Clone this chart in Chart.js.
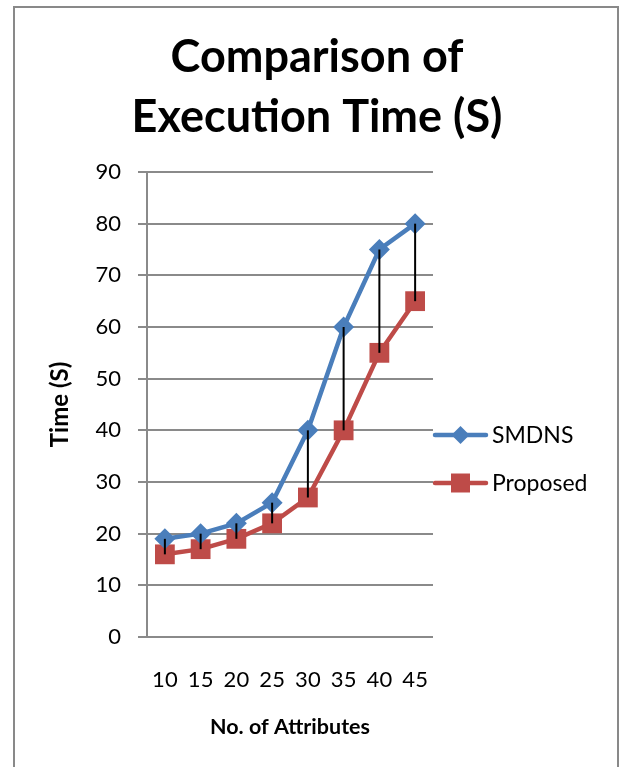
<!DOCTYPE html>
<html>
<head>
<meta charset="utf-8">
<script src="https://cdn.jsdelivr.net/npm/chart.js"></script>
<style>
  html, body { margin: 0; padding: 0; background: #fff; }
  #wrap { position: relative; width: 625px; height: 767px; overflow: hidden; }
  #frame { position: absolute; left: 13px; top: 6px; width: 606px; height: 800px; border: 2px solid #898989; box-sizing: border-box; }
  canvas { position: absolute; left: 0; top: 0; }
</style>
</head>
<body>
<div id="wrap">
  <div id="frame"></div>
  <canvas id="c" width="625" height="767"></canvas>
</div>
<script>
const categories = ["10", "15", "20", "25", "30", "35", "40", "45"];
const smdns = [19, 20, 22, 26, 40, 60, 75, 80];
const proposed = [16, 17, 19, 22, 27, 40, 55, 65];
const seriesNames = ["SMDNS", "Proposed"];
const titleLines = ["Comparison of", "Execution Time (S)"];
const xTitle = "No. of Attributes";
const yTitle = "Time (S)";

const BLUE = "#4A7EBB";
const RED = "#BE4B48";
const GRID = "#8A8A8A";

Chart.defaults.font.family = "Lato";
Chart.defaults.color = "#000";

const highLow = {
  id: "highLow",
  afterDatasetsDraw(chart) {
    const ctx = chart.ctx, xs = chart.scales.x, ys = chart.scales.y;
    ctx.save();
    ctx.strokeStyle = "#000";
    ctx.lineWidth = 2;
    for (let i = 0; i < categories.length; i++) {
      const x = xs.getPixelForValue(i);
      ctx.beginPath();
      ctx.moveTo(x, ys.getPixelForValue(smdns[i]));
      ctx.lineTo(x, ys.getPixelForValue(proposed[i]));
      ctx.stroke();
    }
    ctx.restore();
  }
};

const sideLegend = {
  id: "sideLegend",
  afterDraw(chart) {
    const ctx = chart.ctx, a = chart.chartArea;
    const items = [
      { label: seriesNames[0], color: BLUE, shape: "diamond", y: a.top + 263 },
      { label: seriesNames[1], color: RED, shape: "square", y: a.top + 311 }
    ];
    ctx.save();
    items.forEach(it => {
      const x0 = a.right, x1 = a.right + 55, xm = (x0 + x1) / 2;
      ctx.strokeStyle = it.color;
      ctx.lineWidth = 4.5;
      ctx.lineCap = "round";
      ctx.beginPath(); ctx.moveTo(x0 + 2, it.y); ctx.lineTo(x1 - 2, it.y); ctx.stroke();
      ctx.fillStyle = it.color;
      ctx.beginPath();
      if (it.shape === "diamond") {
        const r = 9;
        ctx.moveTo(xm, it.y - r); ctx.lineTo(xm + r, it.y); ctx.lineTo(xm, it.y + r); ctx.lineTo(xm - r, it.y); ctx.closePath();
      } else {
        const h = 9.5;
        ctx.rect(xm - h, it.y - h, 2 * h, 2 * h);
      }
      ctx.fill();
      ctx.fillStyle = "#000";
      ctx.font = "23px Lato";
      ctx.textBaseline = "middle";
      ctx.textAlign = "left";
      ctx.fillText(it.label, x1 + 4, it.y + 1);
    });
    ctx.restore();
  }
};

new Chart(document.getElementById("c"), {
  type: "line",
  data: {
    labels: categories,
    datasets: [
      {
        label: seriesNames[0], data: smdns,
        borderColor: BLUE, backgroundColor: BLUE, borderWidth: 4.5,
        pointStyle: "rectRot", pointRadius: 10.5, pointBorderWidth: 0,
        pointBackgroundColor: BLUE, tension: 0, yAxisID: "y"
      },
      {
        label: seriesNames[1], data: proposed,
        borderColor: RED, backgroundColor: RED, borderWidth: 4.5,
        pointStyle: "rect", pointRadius: 14, pointBorderWidth: 0,
        pointBackgroundColor: RED, tension: 0, yAxisID: "y"
      }
    ]
  },
  options: {
    responsive: false,
    animation: false,
    layout: { padding: { left: 14, right: 5, top: 0, bottom: 0 } },
    plugins: {
      legend: { display: false },
      tooltip: { enabled: false },
      title: {
        display: true,
        text: titleLines,
        font: { size: 45, weight: "bold", lineHeight: "60px" },
        color: "#000",
        padding: { top: 27, bottom: 25 }
      }
    },
    scales: {
      x: {
        type: "category",
        offset: true,
        grid: { display: false, drawTicks: false },
        border: { display: false },
        ticks: { font: { size: 22 }, padding: 30, maxRotation: 0, autoSkip: false, color: "#000" },
        title: { display: true, text: xTitle, font: { size: 21.5, weight: "bold" }, color: "#000", padding: { top: 0, bottom: 27 } },
        afterFit(s) { s.height = 130; }
      },
      y: {
        position: "left",
        min: 0, max: 90,
        ticks: { stepSize: 10, font: { size: 22 }, padding: 17, color: "#000" },
        grid: { color: GRID, lineWidth: 2, tickLength: 9, drawTicks: true },
        border: { display: true, color: GRID, width: 2 },
        title: { display: true, text: yTitle, font: { size: 24, weight: "bold" }, color: "#000", padding: { top: 32, bottom: 0 } },
        afterFit(s) { s.width = 133; }
      },
      yGhost: {
        type: "linear",
        position: "right",
        display: true,
        grid: { display: false, drawTicks: false },
        border: { display: false },
        ticks: { display: false },
        afterFit(s) { s.width = 187; }
      }
    }
  },
  plugins: [highLow, sideLegend]
});
</script>
</body>
</html>
